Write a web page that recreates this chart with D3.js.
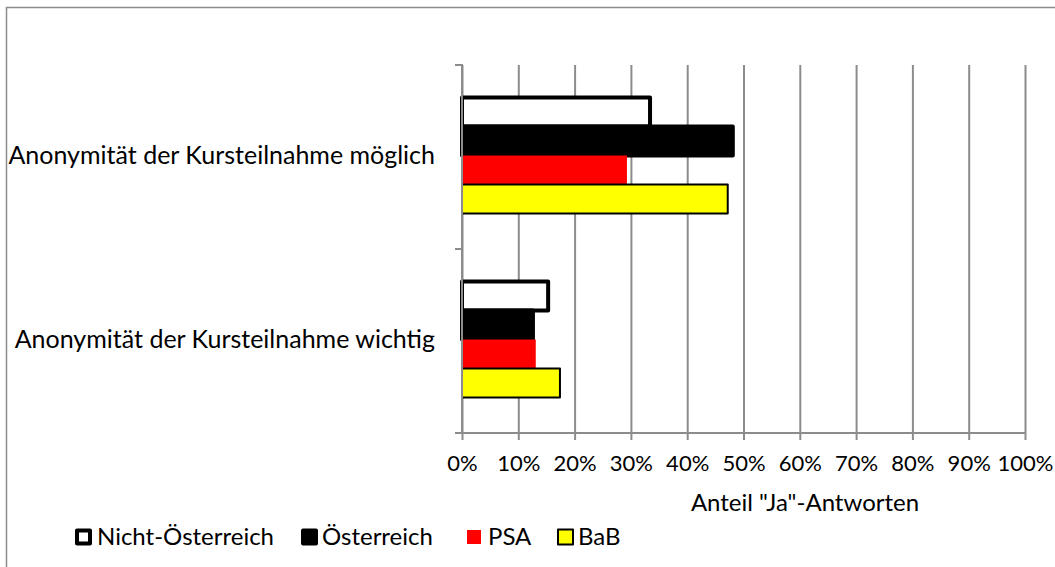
<!DOCTYPE html>
<html lang="de">
<head>
<meta charset="utf-8">
<title>Anonymität</title>
<script src="https://cdn.jsdelivr.net/npm/d3@7"></script>
<style>
  body { margin: 0; background: #fff; }
  text { font-family: Lato, "Open Sans", sans-serif; fill: #000; }
</style>
</head>
<body>
<div id="chart"></div>
<script>
// data
var categories = ["Anonymität der Kursteilnahme möglich", "Anonymität der Kursteilnahme wichtig"]
var seriesNames = ["Nicht-Österreich", "Österreich", "PSA", "BaB"]
var nichtOesterreich = [0.334, 0.153]
var oesterreich = [0.481, 0.126]
var psa = [0.293, 0.131]
var bab = [0.472, 0.174]
var xTicks = [0, 0.1, 0.2, 0.3, 0.4, 0.5, 0.6, 0.7, 0.8, 0.9, 1]

var values = [nichtOesterreich, oesterreich, psa, bab]
var styles = [
  {fill: "#fff", stroke: "#000", sw: 4},
  {fill: "#000", stroke: "#000", sw: 4},
  {fill: "#ff0000", stroke: "none", sw: 0},
  {fill: "#ffff00", stroke: "#000", sw: 2}
]

var w = 1055, h = 567
var plotLeft = 462, plotRight = 1025, plotTop = 65, plotBottom = 433

var svg = d3.select("#chart").append("svg")
  .attr("width", w).attr("height", h)

// outer frame
svg.append("rect")
  .attr("x", 6.5).attr("y", 7.5)
  .attr("width", w + 10).attr("height", h + 10)
  .attr("fill", "none").attr("stroke", "#8c8c8c").attr("stroke-width", 1.5)

var xScale = d3.scaleLinear().domain([0, 1]).range([plotLeft, plotRight])
var yScale = d3.scaleBand().domain(categories).range([plotTop, plotBottom])
var inner = d3.scaleBand().domain(seriesNames)
  .range([0, yScale.bandwidth()]).paddingOuter(1.17)

// gridlines
svg.append("g")
  .attr("transform", "translate(0," + plotBottom + ")")
  .call(d3.axisBottom(xScale).tickValues(xTicks).tickSize(-(plotBottom - plotTop)).tickFormat(""))
  .call(function(g) {
    g.select(".domain").remove()
    g.selectAll("line").attr("stroke", "#8c8c8c").attr("stroke-width", 2)
  })

// bars
seriesNames.forEach(function(s, si) {
  svg.append("g").selectAll("rect")
    .data(categories)
    .enter()
    .append("rect")
    .attr("x", xScale(0))
    .attr("y", function(d) { return yScale(d) + inner(s) - 1.5 })
    .attr("width", function(d, i) { return xScale(values[si][i]) - xScale(0) })
    .attr("height", inner.bandwidth())
    .attr("fill", styles[si].fill)
    .attr("stroke", styles[si].stroke)
    .attr("stroke-width", styles[si].sw)
    .attr("stroke-linejoin", "round")
})

// x axis
var xAxis = svg.append("g")
  .attr("transform", "translate(0," + plotBottom + ")")
  .call(d3.axisBottom(xScale).tickValues(xTicks).tickSize(7).tickPadding(15)
    .tickFormat(d3.format(".0%")))
xAxis.selectAll("line").attr("stroke", "#8c8c8c").attr("stroke-width", 2)
xAxis.select(".domain").attr("stroke", "#8c8c8c").attr("stroke-width", 2)
  .attr("d", "M" + (plotLeft - 7) + ",0H" + plotRight)
xAxis.selectAll("text").attr("font-size", 22).attr("font-family", "Lato, sans-serif")

// y axis
var yAxis = svg.append("g")
  .attr("transform", "translate(" + plotLeft + ",0)")
  .call(d3.axisLeft(yScale).tickSize(0).tickPadding(27))
yAxis.select(".domain").attr("stroke", "#8c8c8c").attr("stroke-width", 2)
  .attr("d", "M-7," + plotTop + "H0V" + plotBottom)
yAxis.selectAll("text").attr("font-size", 25).attr("font-family", "Lato, sans-serif")
  .attr("dy", "0.28em")
// category boundary ticks
yAxis.selectAll(".bound")
  .data([plotTop, plotTop + yScale.bandwidth(), plotBottom])
  .enter().append("line")
  .attr("x1", -7).attr("x2", 0)
  .attr("y1", function(d) { return d }).attr("y2", function(d) { return d })
  .attr("stroke", "#8c8c8c").attr("stroke-width", 2)

// axis title
svg.append("text")
  .attr("x", 805).attr("y", 503)
  .attr("dy", "0.35em")
  .attr("text-anchor", "middle").attr("font-size", 24)
  .text('Anteil "Ja"-Antworten')

// legend
var legendX = [75, 301, 467, 557]
var textX = [97, 322, 488, 578]
var legend = svg.append("g")
seriesNames.forEach(function(s, i) {
  var st = styles[i]
  var size = st.sw ? 17 - st.sw : 14
  var g = legend.append("g").attr("transform", "translate(0,537)")
  g.append("rect")
    .attr("x", legendX[i] + st.sw / 2).attr("y", -size / 2)
    .attr("width", size).attr("height", size)
    .attr("fill", st.fill).attr("stroke", st.stroke).attr("stroke-width", st.sw)
    .attr("stroke-linejoin", "round")
  g.append("text")
    .attr("x", textX[i]).attr("y", 0)
    .attr("dy", "0.35em").attr("font-size", 24)
    .text(s)
})
</script>
</body>
</html>
